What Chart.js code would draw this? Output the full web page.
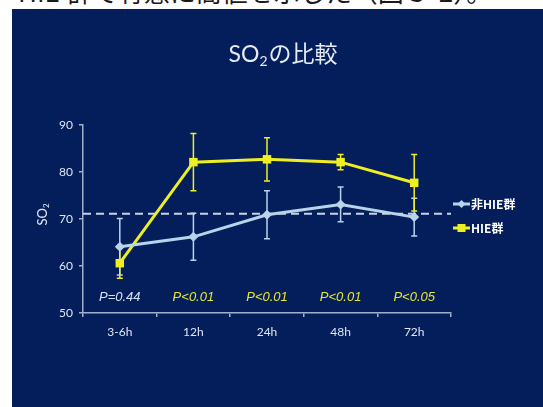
<!DOCTYPE html>
<html>
<head>
<meta charset="utf-8">
<script src="https://cdn.jsdelivr.net/npm/chart.js@4.4.0/dist/chart.umd.min.js"></script>
<style>
  html, body { margin: 0; padding: 0; background: #fff; }
  body { width: 543px; height: 407px; position: relative; overflow: hidden; }
  #caption {
    position: absolute; left: 18px; top: -24px; white-space: nowrap;
    font: 26px "Noto Sans CJK JP", sans-serif; color: #1a1a1a; line-height: 30px;
  }
  #slide {
    position: absolute; left: 12px; top: 9px; width: 531px; height: 398px;
    background: #041e5c;
  }
</style>
</head>
<body>
<div id="caption">HIE 群で有意に高値を示した（図３-2）。</div>
<div id="slide"><canvas id="myChart" width="531" height="398"></canvas></div>
<script>
// SO2 by time after birth, mean ± SD
var times = ['3-6h', '12h', '24h', '48h', '72h'];
var nonHieMean = [64.1, 66.2, 70.9, 73.1, 70.4];
var nonHieSd = [6.0, 5.0, 5.1, 3.7, 4.0];
var hieMean = [60.6, 82.1, 82.7, 82.1, 77.7];
var hieSd = [3.2, 6.1, 4.6, 1.6, 6.0];
var pLabels = ['P=0.44', 'P<0.01', 'P<0.01', 'P<0.01', 'P<0.05'];
var yTicks = [50, 60, 70, 80, 90];
var refLine = 71.1;

var blue = '#b8d4ea';
var yellow = '#eeee22';
var axisColor = '#9fb0cc';
var textColor = '#dfe6f0';
var latin = 'Lato, "Noto Sans CJK JP", sans-serif';

// "SO" + subscript 2 + rest, centred on (cx, cy)
function drawSO2(ctx, rest, size, cx, cy) {
  var big = size + 'px ' + latin;
  var small = Math.round(size * 0.62) + 'px ' + latin;
  ctx.font = big;
  var w1 = ctx.measureText('SO').width;
  var w3 = ctx.measureText(rest).width;
  ctx.font = small;
  var w2 = ctx.measureText('2').width + 1;
  var x0 = cx - (w1 + w2 + w3) / 2;
  ctx.textAlign = 'left';
  ctx.textBaseline = 'middle';
  ctx.font = big;
  ctx.fillText('SO', x0, cy);
  ctx.fillText(rest, x0 + w1 + w2, cy);
  ctx.font = small;
  ctx.fillText('2', x0 + w1, cy + size * 0.28);
}

// error bars, dashed reference line, p-values, titles and legend
var overlay = {
  id: 'overlay',
  beforeDatasetsDraw: function(chart) {
    var ctx = chart.ctx, area = chart.chartArea, y = chart.scales.y;
    var yy = y.getPixelForValue(refLine);
    ctx.save();
    ctx.strokeStyle = '#c9d2e2';
    ctx.lineWidth = 2;
    ctx.setLineDash([8, 5]);
    ctx.beginPath();
    ctx.moveTo(area.left, yy);
    ctx.lineTo(area.right, yy);
    ctx.stroke();
    ctx.restore();

    var sds = [nonHieSd, hieSd];
    chart.data.datasets.forEach(function(ds, i) {
      var meta = chart.getDatasetMeta(i);
      ctx.save();
      ctx.strokeStyle = ds.borderColor;
      ctx.lineWidth = 1.5;
      meta.data.forEach(function(pt, j) {
        var top = y.getPixelForValue(ds.data[j] + sds[i][j]);
        var bot = y.getPixelForValue(ds.data[j] - sds[i][j]);
        ctx.beginPath();
        ctx.moveTo(pt.x, top); ctx.lineTo(pt.x, bot);
        ctx.moveTo(pt.x - 3, top); ctx.lineTo(pt.x + 3, top);
        ctx.moveTo(pt.x - 3, bot); ctx.lineTo(pt.x + 3, bot);
        ctx.stroke();
      });
      ctx.restore();
    });
  },
  afterDraw: function(chart) {
    var ctx = chart.ctx, x = chart.scales.x;
    ctx.save();
    // p-values
    ctx.font = 'italic 13px "Liberation Sans", Arial, sans-serif';
    ctx.textAlign = 'center';
    ctx.textBaseline = 'middle';
    pLabels.forEach(function(t, j) {
      ctx.fillStyle = j === 0 ? '#d6e2f0' : '#e6e630';
      ctx.fillText(t, x.getPixelForValue(j), 288);
    });

    // title
    ctx.fillStyle = '#e4ebf4';
    drawSO2(ctx, 'の比較', 23, 271, 46);

    // y axis title
    ctx.translate(31, 205);
    ctx.rotate(-Math.PI / 2);
    drawSO2(ctx, '', 13, 0, 0);
    ctx.setTransform(1, 0, 0, 1, 0, 0);

    // legend
    ctx.font = 'bold 12px "Noto Sans CJK JP", sans-serif';
    ctx.textAlign = 'left';
    ctx.textBaseline = 'middle';
    var rows = [195, 219];
    chart.data.datasets.forEach(function(ds, i) {
      var ly = rows[i], lx = 441;
      ctx.strokeStyle = ds.borderColor;
      ctx.lineWidth = 3;
      ctx.beginPath();
      ctx.moveTo(lx, ly); ctx.lineTo(lx + 17, ly);
      ctx.stroke();
      ctx.fillStyle = ds.borderColor;
      if (i === 0) {
        ctx.beginPath();
        ctx.moveTo(lx + 8.5, ly - 4); ctx.lineTo(lx + 12.5, ly);
        ctx.lineTo(lx + 8.5, ly + 4); ctx.lineTo(lx + 4.5, ly);
        ctx.closePath(); ctx.fill();
      } else {
        ctx.fillRect(lx + 4.5, ly - 4, 8, 8);
      }
      ctx.fillStyle = '#ffffff';
      ctx.fillText(ds.label, lx + 18, ly);
    });
    ctx.restore();
  }
};

var chart = new Chart(document.getElementById('myChart'), {
  type: 'line',
  data: {
    labels: times,
    datasets: [{
      label: '非HIE群',
      data: nonHieMean,
      borderColor: blue,
      backgroundColor: blue,
      borderWidth: 3,
      pointStyle: 'rectRot',
      pointRadius: 5,
      pointBorderWidth: 0,
      tension: 0
    }, {
      label: 'HIE群',
      data: hieMean,
      borderColor: yellow,
      backgroundColor: yellow,
      borderWidth: 3,
      pointStyle: 'rect',
      pointRadius: 6,
      pointBorderWidth: 0,
      tension: 0
    }]
  },
  options: {
    responsive: false,
    animation: false,
    layout: { padding: { left: 31, right: 92, top: 116, bottom: 64 } },
    plugins: {
      legend: { display: false },
      title: { display: false },
      tooltip: { enabled: false }
    },
    scales: {
      x: {
        offset: true,
        afterFit: function(s) { s.height = 30; },
        border: { display: true, color: axisColor, width: 1.5 },
        grid: { offset: true, drawOnChartArea: false, drawTicks: true, tickLength: 4, color: axisColor, lineWidth: 1.5 },
        ticks: { color: textColor, padding: 8, font: { size: 12, family: latin } }
      },
      y: {
        min: 50,
        max: 90,
        afterFit: function(s) { s.width = 40; },
        afterBuildTicks: function(s) { s.ticks = yTicks.map(function(v) { return { value: v }; }); },
        border: { display: true, color: axisColor, width: 1.5 },
        grid: { drawOnChartArea: false, drawTicks: true, tickLength: 4, color: axisColor, lineWidth: 1.5 },
        ticks: { color: textColor, padding: 6, font: { size: 12, family: latin } }
      }
    }
  },
  plugins: [overlay]
});
</script>
</body>
</html>
